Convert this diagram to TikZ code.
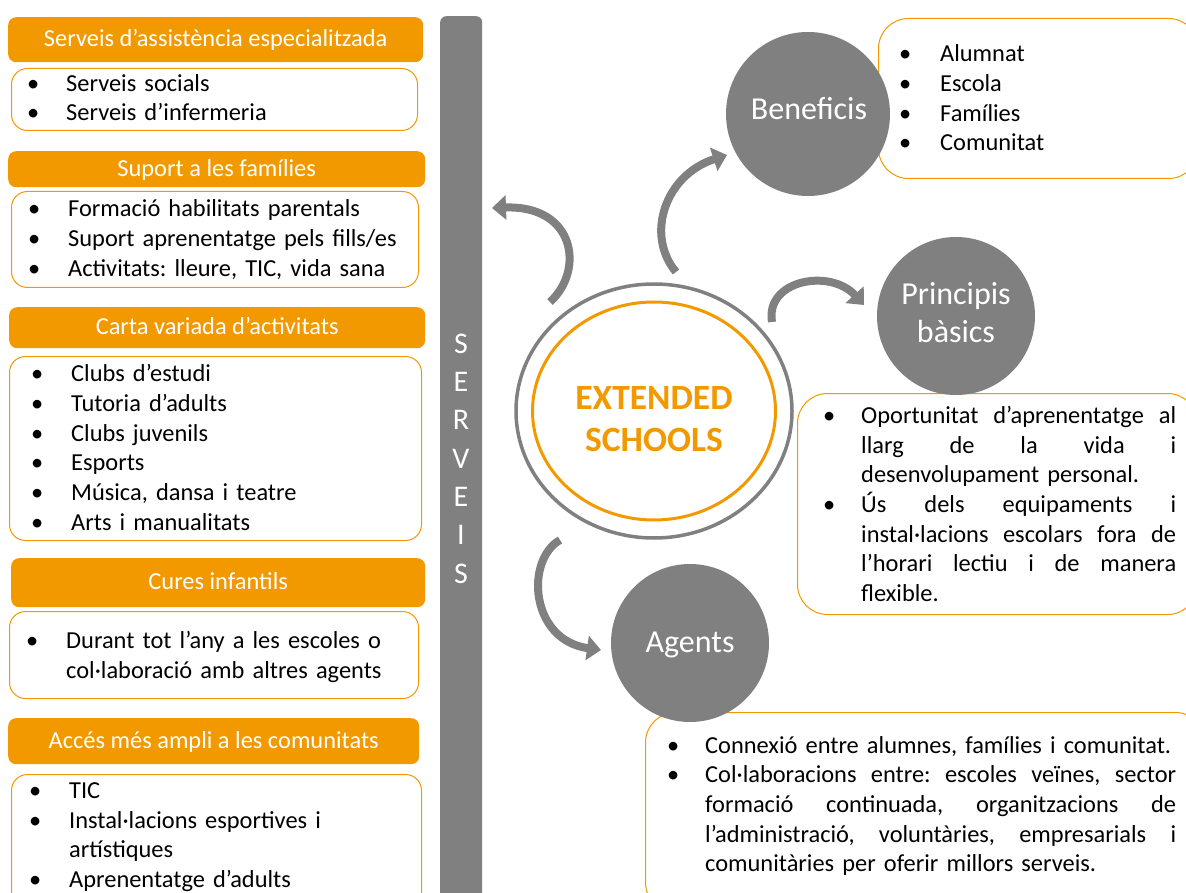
\documentclass[tikz,border=0pt]{standalone}
\usepackage{fontspec}
\setmainfont{Carlito}
\usetikzlibrary{shapes.geometric,arrows.meta}
\definecolor{org}{RGB}{242,153,0}
\definecolor{gr}{RGB}{128,128,128}
\newcommand{\fsz}[2]{\fontsize{#1}{#2}\selectfont}
\newcommand{\bodyf}{\fsz{24.4}{29.7}}
% #1 indent, #2 text width after the bullet, #3 text
\newcommand{\bitem}[3]{\noindent\strut\makebox[#1][l]{\textbullet}\parbox[t]{#2}{\bodyf\frenchspacing\hyphenpenalty=10000\exhyphenpenalty=10000 #3\strut}\par\prevdepth=\dp\strutbox}
% a justified line, spread over the whole line width
\newcommand{\jl}[1]{\makebox[\linewidth][s]{\spaceskip=\fontdimen2\font plus 1fil\relax #1}}
\hbadness=10000
\hfuzz=3pt
\frenchspacing
\begin{document}
\begin{tikzpicture}[x=1pt,y=-1pt,
  hdr/.style={fill=org, rounded corners=8pt, anchor=north west, inner sep=0pt, text=white,
    font=\bodyf, text height=16pt, text depth=2pt},
  lbox/.style={draw=org, fill=white, line width=1pt, rounded corners=16pt, anchor=north west, inner sep=0pt},
  rbox/.style={lbox, rounded corners=30pt},
  txt/.style={anchor=north west, inner sep=0pt, font=\bodyf},
  bub/.style={circle, fill=gr, draw=none, inner sep=0pt, minimum size=160pt},
  bublab/.style={text=white, font=\fsz{32}{38}, inner sep=0pt, anchor=base},
  carr/.style={draw=gr, line width=8pt, -{Triangle[length=14pt,width=24pt]}},
]
\useasboundingbox (0,0) rectangle (1186,893);
\clip (0,0) rectangle (1186,893);

% ---- left column ----
\node[hdr, minimum width=415pt, minimum height=45pt] (h1) at (8,17) {Serveis d’assistència especialitzada};
\node[lbox, minimum width=406pt, minimum height=62pt] (b1) at (11,68) {};
\node[txt, text width=380pt] (t1) at (27,70.2) {\bitem{39pt}{340pt}{Serveis socials}\bitem{39pt}{340pt}{Serveis d’infermeria}};

\node[hdr, minimum width=417pt, minimum height=36pt] (h2) at (8,151) {Suport a les famílies};
\node[lbox, minimum width=407pt, minimum height=96pt] (b2) at (11,191) {};
\node[txt, text width=380pt] (t2) at (28,195.9) {\bitem{40pt}{340pt}{Formació habilitats parentals}\bitem{40pt}{340pt}{Suport aprenentatge pels fills/es}\bitem{40pt}{340pt}{Activitats: lleure, TIC, vida sana}};

\node[hdr, minimum width=416pt, minimum height=41pt] (h3) at (9,307) {Carta variada d’activitats};
\node[lbox, minimum width=412pt, minimum height=184pt] (b3) at (9,356) {};
\node[txt, text width=380pt] (t3) at (31,360.9) {\bitem{40pt}{340pt}{Clubs d’estudi}\bitem{40pt}{340pt}{Tutoria d’adults}\bitem{40pt}{340pt}{Clubs juvenils}\bitem{40pt}{340pt}{Esports}\bitem{40pt}{340pt}{Música, dansa i teatre}\bitem{40pt}{340pt}{Arts i manualitats}};

\node[hdr, minimum width=414pt, minimum height=49pt] (h4) at (11,558) {Cures infantils};
\node[lbox, minimum width=409pt, minimum height=87pt] (b4) at (9,611) {};
\node[txt, text width=380pt] (t4) at (26,627.5) {\bitem{40pt}{340pt}{Durant tot l’any a les escoles o\\col·laboració amb altres agents}};

\node[hdr, minimum width=411pt, minimum height=46pt] (h5) at (8,718) {Accés més ampli a les comunitats};
\node[lbox, minimum width=410pt, minimum height=140pt] (b5) at (11,774) {};
\node[txt, text width=380pt] (t5) at (29,777.5) {\bitem{40pt}{340pt}{TIC}\bitem{40pt}{340pt}{Instal·lacions esportives i\\artístiques}\bitem{40pt}{340pt}{Aprenentatge d’adults}};

% ---- SERVEIS bar ----
\node[fill=gr, rounded corners=6pt, anchor=north west, inner sep=0pt, minimum width=42pt, minimum height=910pt] (bar) at (440,16) {};
\node[anchor=north, inner sep=0pt, text width=30pt, align=center, text=white, font=\fsz{30}{38.3}] (servtxt) at (461,326.2) {\strut S\\E\\R\\V\\E\\I\\S};

% ---- centre ----
\node[ellipse, draw=gr, line width=3.5pt, minimum width=276pt, minimum height=254pt, inner sep=0pt] (ext) at (654,411) {};
\node[ellipse, draw=org, line width=3pt, minimum width=243pt, minimum height=218pt, inner sep=0pt] (extin) at (654,411) {};
\node[anchor=north, inner sep=0pt, text width=250pt, align=center, text=org, font=\bfseries\fsz{35.5}{42}] (extlab) at (654,379.6) {\strut EXTENDED\\SCHOOLS};

% ---- right: Beneficis ----
\node[rbox, minimum width=320pt, minimum height=160pt] (rb1) at (878,18) {};
\node[bub, minimum size=164pt] (ben) at (808,114) {};
\node[bublab] (benlab) at (809,120) {Beneficis};
\node[txt, text width=270pt] (rt1) at (899,40.9) {\bitem{41pt}{225pt}{Alumnat}\bitem{41pt}{225pt}{Escola}\bitem{41pt}{225pt}{Famílies}\bitem{41pt}{225pt}{Comunitat}};

% ---- right: Principis ----
\node[rbox, minimum width=400pt, minimum height=221pt] (rb2) at (797,393) {};
\node[bub, minimum size=158pt] (pri) at (956,316) {};
\node[bublab, align=center, anchor=north, text width=150pt] (prilab) at (956,277.4) {\strut Principis\\bàsics};
\node[txt, text width=353pt] (rt2) at (823,402.5) {\bitem{38pt}{315pt}{\jl{Oportunitat d’aprenentatge al}\\\jl{llarg de la vida i}\\desenvolupament personal.}\bitem{38pt}{315pt}{\jl{Ús dels equipaments i}\\\jl{instal·lacions escolars fora de}\\\jl{l’horari lectiu i de manera}\\flexible.}};

% ---- right: Agents ----
\node[rbox, minimum width=560pt, minimum height=200pt] (rb3) at (645,712) {};
\node[bub, minimum size=158pt] (agt) at (690,643) {};
\node[bublab] (agtlab) at (690,652) {Agents};
\node[txt, text width=509pt] (rt3) at (667,732.2) {\bitem{38pt}{471pt}{Connexió entre alumnes, famílies i comunitat.}\bitem{38pt}{471pt}{\jl{Col·laboracions entre: escoles veïnes, sector}\\\jl{formació continuada, organitzacions de}\\\jl{l’administració, voluntàries, empresarials i}\\comunitàries per oferir millors serveis.}};

% ---- curved arrows ----
\coordinate (a1s) at (550,302);
\coordinate (a1e) at (492,208);
\coordinate (a2s) at (676,272);
\coordinate (a2e) at (727,155);
\coordinate (a3s) at (772,322);
\coordinate (a3e) at (864,305);
\coordinate (a4s) at (560,540);
\coordinate (a4e) at (601,650);
\draw[carr] (a1s) .. controls (585,270) and (575,205) .. (a1e);
\draw[carr] (a2s) .. controls (645,235) and (665,175) .. (a2e);
\draw[carr] (a3s) .. controls (765,280) and (830,268) .. (a3e);
\draw[carr] (a4s) .. controls (525,560) and (530,640) .. (a4e);
\end{tikzpicture}
\end{document}
